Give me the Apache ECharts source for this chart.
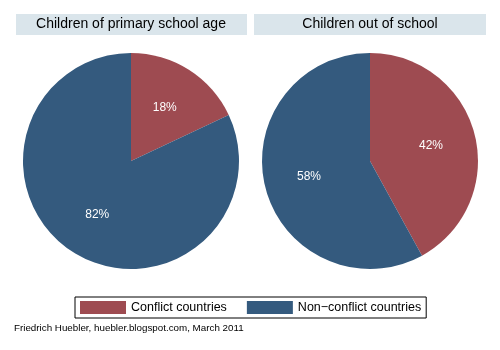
<!DOCTYPE html>
<html>
<head>
<meta charset="utf-8">
<script src="https://cdn.jsdelivr.net/npm/echarts@6/dist/echarts.min.js"></script>
<style>
html,body{margin:0;padding:0;background:#fff;}
#main{width:500px;height:350px;}
</style>
</head>
<body>
<div id="main"></div>
<script>
var categories = ['Conflict countries', 'Non\u2212conflict countries'];
var panelTitles = ['Children of primary school age', 'Children out of school'];
var primaryAge = [18, 82];
var outOfSchool = [42, 58];
var colors = ['#9e4b51', '#345a7e'];
var font = '"Liberation Sans", Arial, sans-serif';

function toData(vals){
    return vals.map(function(v, i){ return {value: v, name: categories[i]}; });
}

function pieSeries(vals, cx){
    return {
        type: 'pie',
        center: [cx, 161],
        radius: [0, 108],
        startAngle: 90,
        clockwise: true,
        silent: true,
        label: {show: false},
        labelLine: {show: false},
        itemStyle: {borderWidth: 0},
        data: toData(vals)
    };
}

// invisible copy, only used to place the percent labels a bit further out
function labelSeries(vals, cx){
    return {
        type: 'pie',
        center: [cx, 161],
        radius: [0, 120],
        startAngle: 90,
        clockwise: true,
        silent: true,
        label: {
            show: true,
            position: 'inside',
            formatter: '{c}%',
            color: '#fff',
            fontSize: 12,
            fontFamily: font
        },
        labelLine: {show: false},
        itemStyle: {color: 'rgba(0,0,0,0)', borderWidth: 0},
        data: toData(vals)
    };
}

var myChart = echarts.init(document.getElementById('main'));
var option = {
    animation: false,
    color: colors,
    title: [
        {text: panelTitles[0], left: 131, top: 17, textAlign: 'center', padding: 0,
         textStyle: {fontSize: 14, fontWeight: 'normal', color: '#000', fontFamily: font}},
        {text: panelTitles[1], left: 370, top: 17, textAlign: 'center', padding: 0,
         textStyle: {fontSize: 14, fontWeight: 'normal', color: '#000', fontFamily: font}}
    ],
    legend: {
        data: categories,
        left: 75,
        top: 297,
        orient: 'horizontal',
        icon: 'rect',
        itemWidth: 46,
        itemHeight: 13,
        itemGap: 20,
        itemTextGap: 6,
        padding: [4, 5],
        borderColor: '#000',
        borderWidth: 1,
        selectedMode: false,
        textStyle: {fontSize: 12.5, color: '#000', fontFamily: font}
    },
    graphic: [
        {type: 'rect', z: -1, shape: {x: 16, y: 14, width: 231, height: 21}, style: {fill: '#dae5eb'}},
        {type: 'rect', z: -1, shape: {x: 254, y: 14, width: 232, height: 21}, style: {fill: '#dae5eb'}},
        {type: 'text', left: 14, top: 323,
         style: {text: 'Friedrich Huebler, huebler.blogspot.com, March 2011', fontSize: 9.8, fill: '#000', fontFamily: font}}
    ],
    series: [
        pieSeries(primaryAge, 131),
        pieSeries(outOfSchool, 370),
        labelSeries(primaryAge, 131),
        labelSeries(outOfSchool, 370)
    ]
};
myChart.setOption(option);
</script>
</body>
</html>
